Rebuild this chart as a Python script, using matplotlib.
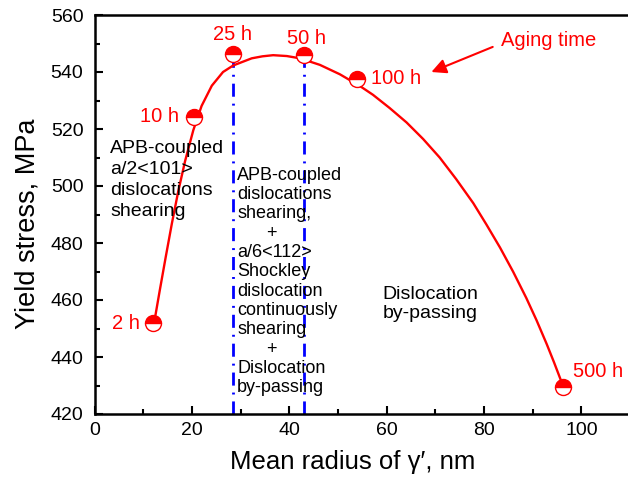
import matplotlib
matplotlib.use("Agg")
import matplotlib.pyplot as plt
from matplotlib.ticker import MultipleLocator

plt.rcParams['font.family'] = ['Liberation Sans', 'DejaVu Sans']

# measured points (mean radius nm, yield stress MPa)
radius = [12.1, 20.4, 28.4, 43.0, 54.0, 96.3]
stress = [451.8, 524.3, 546.2, 546.0, 537.5, 429.6]
aging_labels = ['2 h', '10 h', '25 h', '50 h', '100 h', '500 h']

# fitted trend line
fit_x = [12.3, 13.4, 14.6, 15.9, 17.2, 18.6, 20.3, 22.0, 24.1, 26.4, 28.5,
         32.3, 34.5, 36.7, 39.5, 42.2, 46.3, 50.4, 54.5, 57.2, 60.6, 64.1,
         67.5, 70.9, 74.3, 77.8, 80.5, 83.3, 86.0, 88.7, 90.8, 92.9, 94.4,
         95.9, 96.3]
fit_y = [452.5, 463.3, 474.8, 486.9, 498.1, 508.7, 519.6, 528.1, 535.2, 540.0,
         542.3, 544.8, 545.5, 545.9, 545.6, 544.8, 542.5, 539.2, 535.1, 532.0,
         527.4, 522.3, 516.5, 510.0, 502.4, 494.0, 486.5, 478.4, 469.9, 460.7,
         452.9, 444.5, 438.1, 431.4, 429.8]

fig = plt.figure(figsize=(6.28, 4.78), dpi=100)
ax = fig.add_axes([94.5 / 628, 64 / 478, 535.5 / 628, 399 / 478])

ax.plot(fit_x, fit_y, color='red', lw=1.7, zorder=3, solid_joinstyle='round')

# boundaries between mechanisms at 25 h and 50 h
for i in (2, 3):
    ax.plot([radius[i], radius[i]], [420, stress[i]], color='blue', lw=2,
            dashes=(4.7, 2.5, 0.7, 2.5), zorder=2)

ax.plot(radius, stress, ls='none', marker='o', ms=11.5, mfc='red',
        mfcalt='white', fillstyle='top', mec='red', mew=1.0, zorder=4)

# labels for aging time
lab_pos = [(9.3, 451.8, 'right', 'center'), (17.4, 524.3, 'right', 'center'),
           (28.3, 553.0, 'center', 'center'), (43.5, 551.8, 'center', 'center'),
           (56.9, 537.8, 'left', 'center'), (98.3, 434.8, 'left', 'center')]
for lab, (x, y, ha, va) in zip(aging_labels, lab_pos):
    ax.text(x, y, lab, color='red', fontsize=14.5, ha=ha, va=va)

ax.text(83.6, 551.2, 'Aging time', color='red', fontsize=14.5, ha='left', va='center')
ax.annotate('', xy=(69.2, 540.0), xytext=(81.8, 548.8),
            arrowprops=dict(arrowstyle='-|>', color='red', lw=1.5,
                            mutation_scale=22, shrinkA=0, shrinkB=0))

ax.text(3.2, 516.3, 'APB-coupled\na/2<101>\ndislocations\nshearing',
        fontsize=14, ha='left', va='top', linespacing=1.32)
ax.text(29.3, 506.8, 'APB-coupled\ndislocations\nshearing,\n      +\na/6<112>\n'
        'Shockley\ndislocation\ncontinuously\nshearing\n      +\nDislocation\nby-passing',
        fontsize=13, ha='left', va='top', linespacing=1.18)
ax.text(59.2, 464.8, 'Dislocation\nby-passing', fontsize=14, ha='left', va='top',
        linespacing=1.15)

ax.set_xlim(0, 110)
ax.set_ylim(420, 560)
ax.xaxis.set_major_locator(MultipleLocator(20))
ax.xaxis.set_minor_locator(MultipleLocator(10))
ax.yaxis.set_major_locator(MultipleLocator(20))
ax.yaxis.set_minor_locator(MultipleLocator(10))
ax.tick_params(which='both', direction='in', width=1.5, labelsize=14,
               top=False, right=False)
ax.tick_params(which='major', length=6)
ax.tick_params(which='minor', length=3.5)
ax.tick_params(axis='y', pad=8)
ax.tick_params(axis='x', pad=6)
for s in ax.spines.values():
    s.set_linewidth(1.8)

ax.set_xlabel('Mean radius of γ′, nm', fontsize=18.5)
ax.set_ylabel('Yield stress, MPa', fontsize=19.5)
ax.xaxis.set_label_coords(0.483, -0.09)
ax.yaxis.set_label_coords(-0.10, 0.476)

fig.savefig('out.png', dpi=100)
